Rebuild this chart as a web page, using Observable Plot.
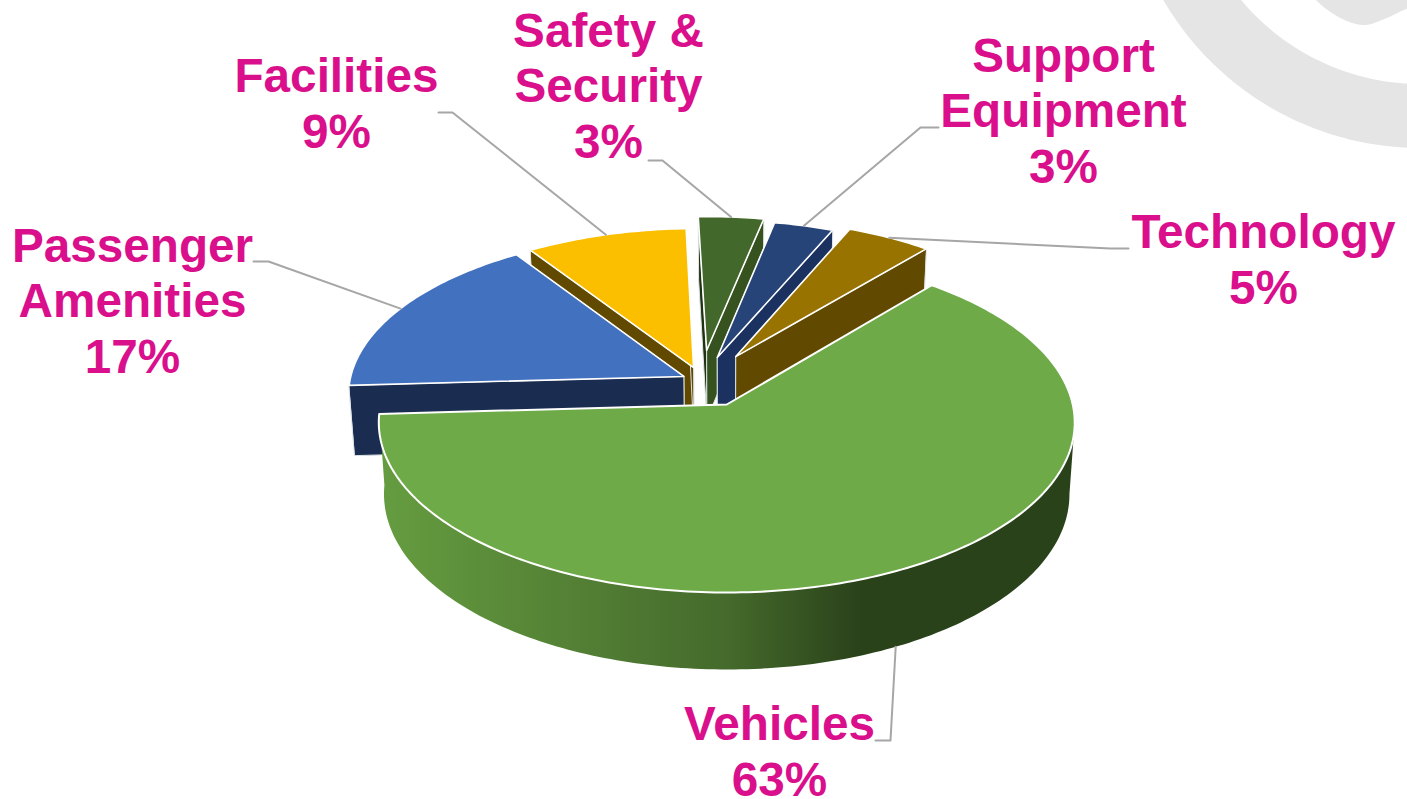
<!DOCTYPE html>
<html>
<head>
<meta charset="utf-8">
<script src="https://cdn.jsdelivr.net/npm/d3@7"></script>
<script src="https://cdn.jsdelivr.net/npm/@observablehq/plot@0.6"></script>
<style>html,body{margin:0;padding:0;background:#fff}svg{display:block}</style>
</head>
<body>
<div id="chart"></div>
<script>
// ---- data ----
const categories = ["Vehicles", "Passenger Amenities", "Facilities", "Safety & Security", "Support Equipment", "Technology"];
const shownPercents = [63, 17, 9, 3, 3, 5];
const sliceShares = [63.03, 16.5, 8.83, 3.67, 3.28, 4.69];   // swept share as measured on the drawing
const labelLines = [["Vehicles"], ["Passenger", "Amenities"], ["Facilities"], ["Safety &", "Security"], ["Support", "Equipment"], ["Technology"]];

// ---- styling and layout ----
const topColors  = ["#6eaa47", "#4271c0", "#fbbf00", "#43682b", "#264478", "#997300"];
const wallColors = ["url(#vehicleWall)", "#1a2c50", "#614a00", "#36531f", "#1b3160", "#614a00"];
const explodeU = [0.005, -0.121, -0.093, -0.055, -0.023, 0.032];
const explodeV = [0, 0.170, 0.225, 0.3325, 0.288, 0.294];
const radii = [1, 0.98, 0.952, 0.935, 0.952, 0.955];
const labelX = [779, 132, 336, 608, 1063, 1263];
const labelBaseline = [795, 372, 147, 157, 182, 303];
const elbowFromX = [875, 253, 438, 648, 938, 1128];
const elbowToX = [890, 268, 452, 662, 920, 1110];
const elbowY = [740, 261, 112, 160, 127, 248];
const startAngle = 39.9;
const paintOrder = [3, 4, 5, 2, 1, 0];
const labelColor = "#d90f8c";
const leaderColor = "#a6a6a6";
const swirlColor = "#e6e5e6";
const W = 1407, H = 799;

// perspective view of the pie plane
const cx = 724.5, cy = 404, A = 346, persp = 0.1059, tilt = -125.3;
function project(u, v, level) {
  const w = 1 + persp * v;
  let x = cx + A * u / w, y = (cy + tilt * v) / w;
  if (level) { x = cx + (x - cx) * 0.985; y += 71 - 6 * v; }
  return {x, y};
}

const total = d3.sum(sliceShares);
let running = startAngle;
const slices = categories.map((name, i) => {
  const a0 = running, a1 = running + sliceShares[i] / total * 360;
  running = a1;
  return {name, i, a0, a1, ou: explodeU[i], ov: explodeV[i], r: radii[i]};
});
const rim = (s, a, level) => {
  const t = a * Math.PI / 180;
  return project(s.ou + s.r * Math.sin(t), s.ov + s.r * Math.cos(t), level);
};
const apex = (s, level) => project(s.ou, s.ov, level);
const arc = (s, level, from = s.a0) => {
  const out = [];
  const n = Math.ceil(s.a1 - from);
  for (let k = 0; k <= n; k++) out.push(rim(s, from + (s.a1 - from) * k / n, level));
  return out;
};

const poly = (pts, fill, stroke, strokeWidth) =>
  Plot.line(pts, {x: "x", y: "y", curve: "linear-closed", fill, stroke, strokeWidth, strokeLinejoin: "round"});

function sliceMarks(s) {
  const wall = wallColors[s.i], top = topColors[s.i];
  const marks = [];
  if (s.i === 0) {
    // only the front of the rim shows: start it at the right-hand silhouette
    marks.push(poly([...arc(s, 0, 96), ...arc(s, 1, 96).reverse()], wall, "none", 0));
  } else {
    const edge = "#dfe3e6";
    const near = poly([rim(s, s.a0, 0), apex(s, 0), apex(s, 1), rim(s, s.a0, 1)], s.i === 3 ? "#1f3311" : wall, edge, 1);
    const far  = poly([rim(s, s.a1, 0), apex(s, 0), apex(s, 1), rim(s, s.a1, 1)], wall, edge, 1);
    // the cut facing the viewer is painted last
    marks.push(...(s.a0 > 180 && s.a1 < 340 ? [far, near] : [near, far]));
  }
  marks.push(poly([apex(s, 0), ...arc(s, 0)], top, "#ffffff", s.i === 0 ? 2 : 1.6));
  return marks;
}

// leaders run from the label to the middle of the slice rim
const leaders = slices.flatMap((s, i) => {
  const mid = (s.a0 + s.a1) / 2;
  const end = rim(s, mid, i === 0 ? 1 : 0);
  return [
    {i, x: elbowFromX[i], y: elbowY[i]},
    {i, x: elbowToX[i], y: elbowY[i]},
    {i, x: end.x, y: end.y}
  ];
});

const labels = categories.map((name, i) => ({
  x: labelX[i], y: labelBaseline[i],
  text: [...labelLines[i], shownPercents[i] + "%"].join("\n")
}));

// backdrop swirl in the corner of the slide
const ringCentre = [1420, -150], ringOuter = 297.5, ringInner = 233.5;
const ringPts = (r, a0, a1) => d3.range(0, 91).map(k => {
  const t = (a0 + (a1 - a0) * k / 90) * Math.PI / 180;
  return {x: ringCentre[0] + r * Math.cos(t), y: ringCentre[1] + r * Math.sin(t)};
});
const swirlRing = [...ringPts(ringOuter, 80, 170), ...ringPts(ringInner, 170, 80)];
const swirlBlob = [[1312,-4],[1325,8],[1345,20],[1365,24.5],[1385,18],[1407,8],[1420,5],[1420,-10]].map(([x,y])=>({x,y}));

const gradientDef = () => {
  const svg = d3.create("svg:g");
  const g = svg.append("defs").append("linearGradient")
    .attr("id", "vehicleWall").attr("gradientUnits", "userSpaceOnUse")
    .attr("x1", 383).attr("x2", 860).attr("y1", 0).attr("y2", 0);
  g.append("stop").attr("offset", "0").attr("stop-color", "#659c40");
  g.append("stop").attr("offset", "0.72").attr("stop-color", "#456a2c");
  g.append("stop").attr("offset", "1").attr("stop-color", "#2a421a");
  return svg.node();
};

const chart = Plot.plot({
  width: W, height: H,
  margin: 0,
  x: {domain: [0, W], axis: null},
  y: {domain: [H, 0], axis: null},
  style: {background: "#fff"},
  marks: [
    gradientDef,
    poly(swirlRing, swirlColor, "none", 0),
    Plot.line(swirlBlob, {x: "x", y: "y", curve: "catmull-rom", fill: swirlColor, stroke: "none"}),
    ...paintOrder.flatMap(i => sliceMarks(slices[i])),
    Plot.line(leaders, {x: "x", y: "y", z: "i", stroke: leaderColor, strokeWidth: 2}),
    Plot.text(labels, {
      x: "x", y: "y", text: "text", lineAnchor: "bottom", textAnchor: "middle",
      lineHeight: 55.5 / 47.7, fontSize: 47.7, fontWeight: 700,
      fontFamily: "'Liberation Sans', Arial, sans-serif", fill: labelColor
    })
  ]
});
document.getElementById("chart").appendChild(chart);
</script>
</body>
</html>
